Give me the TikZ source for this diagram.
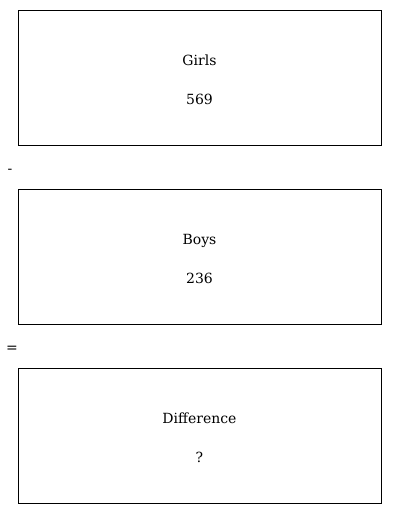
\documentclass[tikz,border=0pt]{standalone}
\usepackage{fontspec}
\setmainfont{DejaVu Serif}
\begin{document}
\begin{tikzpicture}[x=1pt,y=-1pt,
  panel/.style={draw,line width=0.8pt,inner sep=0pt},
  lbl/.style={font=\fontsize{14}{17}\selectfont,inner sep=0pt,anchor=base},
  op/.style={font=\fontsize{14}{17}\selectfont,inner sep=0pt}]
\useasboundingbox (0,0) rectangle (400,514);
\draw[panel] (18,10) rectangle (381,145);
\node[lbl] (g1) at (199.5,65) {Girls};
\node[lbl] (g2) at (199.5,104.5) {569};
\node[op] (minus) at (10,171) {-};
\draw[panel] (18,189) rectangle (381,324);
\node[lbl] (b1) at (199.5,244) {Boys};
\node[lbl] (b2) at (199.5,283.5) {236};
\node[op] (eq) at (12,349.5) {=};
\draw[panel] (18,368) rectangle (381,503);
\node[lbl] (d1) at (199.5,423) {Difference};
\node[lbl] (d2) at (199.5,462.5) {?};
\end{tikzpicture}
\end{document}
